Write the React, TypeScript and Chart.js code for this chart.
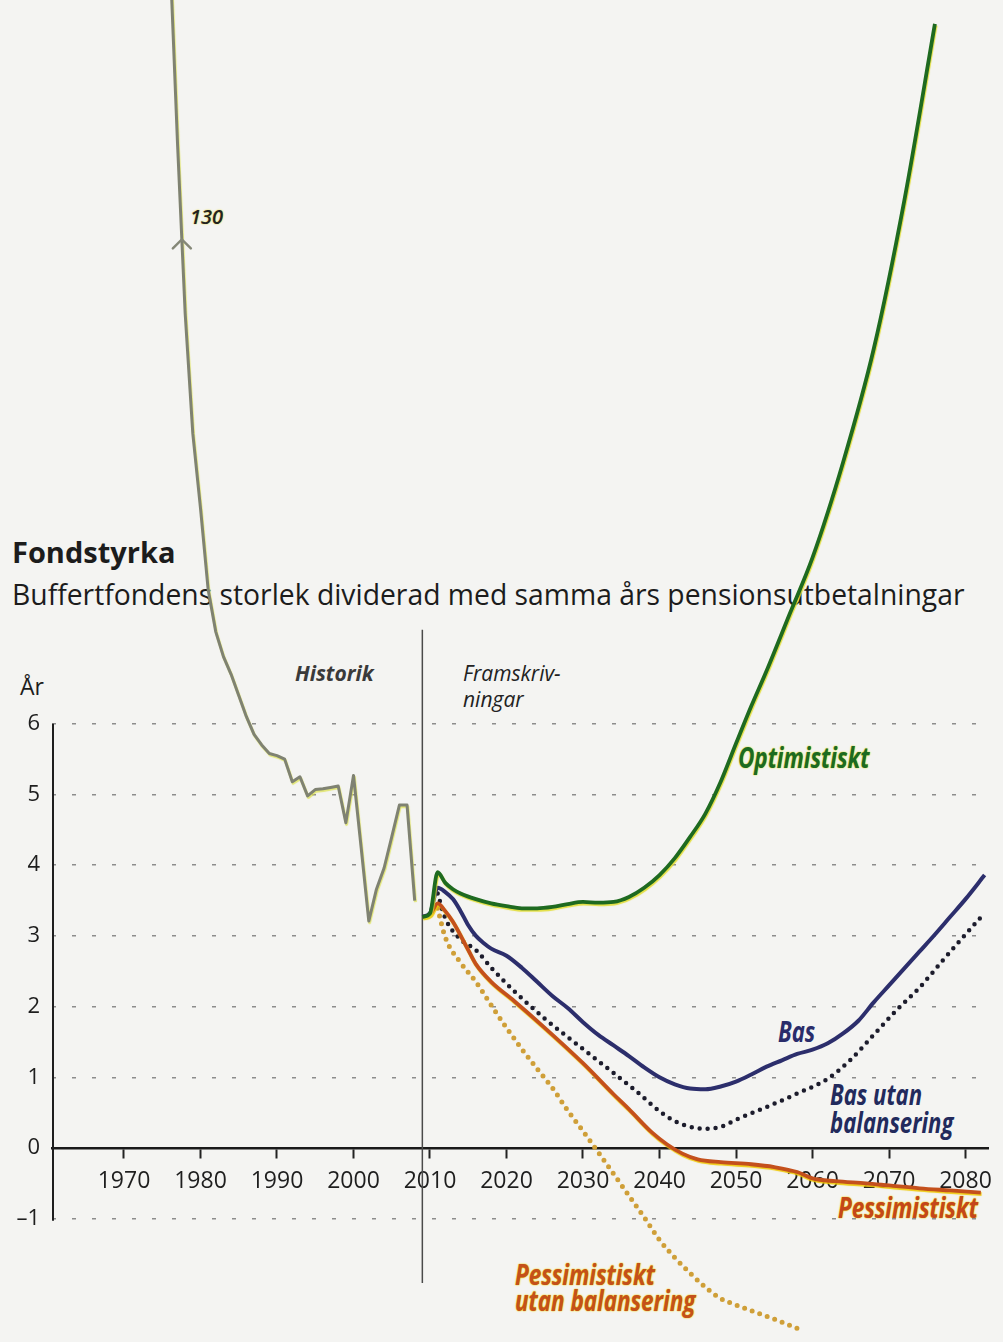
import React, { useEffect, useRef } from "react";
import { Chart, registerables } from "chart.js";

Chart.register(...registerables);

// ---- data ----
const HIST_YEARS = [1976, 1977, 1978, 1979, 1980, 1981, 1982, 1983, 1984, 1985, 1986, 1987, 1988, 1989, 1990, 1991, 1992, 1993, 1994, 1995, 1996, 1997, 1998, 1999, 2000, 2001, 2002, 2003, 2004, 2005, 2006, 2007, 2008];
const HIST_VALUES = [16.9, 14.2, 11.8, 10.1, 9.05, 7.9, 7.3, 6.95, 6.7, 6.4, 6.1, 5.85, 5.7, 5.58, 5.55, 5.5, 5.18, 5.25, 4.98, 5.07, 5.08, 5.1, 5.12, 4.6, 5.27, 4.25, 3.21, 3.66, 3.96, 4.4, 4.85, 4.85, 3.5];

const OPT_YEARS = [2009, 2010, 2011, 2012, 2013, 2014, 2016, 2018, 2020, 2022, 2024, 2026, 2028, 2030, 2032, 2034, 2036, 2038, 2040, 2042, 2044, 2046, 2048, 2050, 2052, 2054, 2057, 2060, 2064, 2068, 2072, 2076];
const OPT_VALUES = [3.27, 3.32, 3.9, 3.75, 3.66, 3.6, 3.52, 3.46, 3.42, 3.39, 3.39, 3.41, 3.45, 3.48, 3.47, 3.48, 3.55, 3.68, 3.86, 4.1, 4.4, 4.73, 5.18, 5.72, 6.25, 6.75, 7.55, 8.35, 9.7, 11.3, 13.4, 15.9];

const BAS_YEARS = [2009, 2010, 2011, 2012, 2013, 2014, 2015, 2016, 2017, 2018, 2020, 2022, 2024, 2026, 2028, 2030, 2032, 2034, 2036, 2038, 2040, 2042, 2044, 2046, 2048, 2050, 2052, 2054, 2056, 2058, 2060, 2062, 2064, 2066, 2068, 2070, 2072, 2074, 2076, 2078, 2080, 2082.5];
const BAS_VALUES = [3.27, 3.32, 3.68, 3.62, 3.52, 3.35, 3.15, 3.0, 2.9, 2.82, 2.72, 2.55, 2.35, 2.15, 1.98, 1.78, 1.6, 1.45, 1.3, 1.14, 1.0, 0.9, 0.84, 0.83, 0.87, 0.94, 1.04, 1.15, 1.24, 1.33, 1.39, 1.48, 1.62, 1.8, 2.06, 2.3, 2.54, 2.78, 3.02, 3.27, 3.52, 3.86];

const BASU_YEARS = [2011, 2012, 2014, 2016, 2018, 2021, 2025, 2030, 2034, 2037, 2040, 2042, 2044, 2046, 2048, 2050, 2054, 2058, 2062, 2065, 2068, 2071, 2074, 2077, 2080, 2082.3];
const BASU_VALUES = [3.6, 3.25, 2.95, 2.8, 2.55, 2.22, 1.83, 1.4, 1.06, 0.8, 0.52, 0.38, 0.3, 0.27, 0.3, 0.4, 0.58, 0.77, 0.98, 1.25, 1.6, 1.95, 2.27, 2.65, 3.02, 3.3];

const PESS_YEARS = [2009, 2010, 2011, 2012, 2013, 2015, 2016, 2018, 2021, 2025, 2030, 2034, 2036, 2039, 2041, 2043, 2045, 2048, 2052, 2055, 2058, 2060, 2063, 2067, 2070, 2074, 2078, 2082];
const PESS_VALUES = [3.27, 3.3, 3.46, 3.35, 3.2, 2.8, 2.6, 2.35, 2.08, 1.7, 1.2, 0.76, 0.55, 0.22, 0.05, -0.08, -0.16, -0.2, -0.23, -0.27, -0.34, -0.43, -0.47, -0.5, -0.53, -0.57, -0.6, -0.63];

const PESSU_YEARS = [2011, 2012, 2014, 2016, 2018, 2020, 2022, 2024, 2026, 2028, 2030, 2032, 2035, 2038, 2040, 2042, 2044, 2046, 2048, 2050, 2052, 2055, 2058];
const PESSU_VALUES = [3.39, 2.98, 2.62, 2.35, 2.02, 1.7, 1.4, 1.12, 0.85, 0.53, 0.24, -0.06, -0.52, -0.98, -1.3, -1.55, -1.77, -1.97, -2.13, -2.22, -2.3, -2.42, -2.55];

const X_TICKS = [1970, 1980, 1990, 2000, 2010, 2020, 2030, 2040, 2050, 2060, 2070, 2080];
const Y_TICKS = [-1, 0, 1, 2, 3, 4, 5, 6];
const X_MIN = 1960.59;
const X_MAX = 2082.94;
const Y_MIN = -2.744;
const Y_MAX = 16.237;
const SPLIT_YEAR = 2009;
const SPLIT_TOP = 7.33;
const SPLIT_BOTTOM = -1.91;
const ARROW_VALUE = 12.85;

const FONT = "'Open Sans', 'DejaVu Sans', sans-serif";

type Lbl = {
  text: string; left: number; base: number; size: number; weight?: number;
  italic?: boolean; color?: string; glow?: string; sx?: number;
};

const LABELS: Lbl[] = [
  { text: "Fondstyrka", left: 12, base: 563, size: 29, weight: 700, color: "#1c1c1c" },
  { text: "Buffertfondens storlek dividerad med samma års pensionsutbetalningar", left: 12, base: 605, size: 28.3, color: "#1c1c1c" },
  { text: "År", left: 20, base: 695, size: 23, color: "#1c1c1c" },
  { text: "Historik", left: 295, base: 682, size: 21, weight: 700, italic: true, color: "#3a3a3a" },
  { text: "Framskriv-", left: 463, base: 682, size: 21, italic: true, color: "#222" },
  { text: "ningar", left: 463, base: 708, size: 21, italic: true, color: "#222" },
  { text: "130", left: 190, base: 225, size: 20, weight: 600, italic: true, color: "#222", glow: "#e8e060" },
  { text: "Optimistiskt", left: 738, base: 768, size: 28, weight: 700, italic: true, color: "#1c6a22", glow: "#dede3a", sx: 0.8 },
  { text: "Bas", left: 778, base: 1042, size: 28, weight: 700, italic: true, color: "#2a2c6a", sx: 0.79 },
  { text: "Bas utan", left: 830, base: 1105, size: 28, weight: 700, italic: true, color: "#222a5c", sx: 0.79 },
  { text: "balansering", left: 830, base: 1133, size: 28, weight: 700, italic: true, color: "#222a5c", sx: 0.79 },
  { text: "Pessimistiskt", left: 838, base: 1218, size: 28, weight: 700, italic: true, color: "#c4461b", glow: "#f0d000", sx: 0.8 },
  { text: "Pessimistiskt", left: 515, base: 1285, size: 28, weight: 700, italic: true, color: "#c4501b", glow: "#f0d000", sx: 0.8 },
  { text: "utan balansering", left: 515, base: 1311, size: 28, weight: 700, italic: true, color: "#c4501b", glow: "#f0d000", sx: 0.8 },
];

const pts = (xs: number[], ys: number[]) => xs.map((x, i) => ({ x, y: ys[i] }));

const decorPlugin = {
  id: "decor",
  beforeDatasetsDraw(chart: any) {
    const { ctx, chartArea, scales } = chart;
    const x = scales.x;
    const y = scales.y;
    ctx.save();
    ctx.strokeStyle = "#1e1e1e";
    ctx.lineWidth = 2;
    ctx.beginPath();
    ctx.moveTo(chartArea.left + 1, y.getPixelForValue(Y_TICKS[Y_TICKS.length - 1]));
    ctx.lineTo(chartArea.left + 1, y.getPixelForValue(Y_TICKS[0]) + 2);
    ctx.stroke();
    const sx = x.getPixelForValue(SPLIT_YEAR);
    ctx.strokeStyle = "#4a4a4a";
    ctx.lineWidth = 1.5;
    ctx.beginPath();
    ctx.moveTo(sx, y.getPixelForValue(SPLIT_TOP));
    ctx.lineTo(sx, y.getPixelForValue(SPLIT_BOTTOM));
    ctx.stroke();
    ctx.restore();
  },
  beforeDatasetDraw(chart: any, args: any) {
    const ds = chart.data.datasets[args.index];
    const ctx = chart.ctx;
    ctx.save();
    if (ds.glow) {
      ctx.shadowColor = ds.glow;
      ctx.shadowOffsetX = 0.8;
      ctx.shadowOffsetY = 1.6;
      ctx.shadowBlur = 0.8;
    }
  },
  afterDatasetDraw(chart: any) {
    chart.ctx.restore();
  },
  afterDatasetsDraw(chart: any) {
    const { ctx, scales } = chart;
    let yr = HIST_YEARS[0];
    for (let i = 0; i < HIST_VALUES.length - 1; i++) {
      const a = HIST_VALUES[i], b = HIST_VALUES[i + 1];
      if (a >= ARROW_VALUE && b <= ARROW_VALUE) {
        yr = HIST_YEARS[i] + ((a - ARROW_VALUE) / (a - b)) * (HIST_YEARS[i + 1] - HIST_YEARS[i]);
        break;
      }
    }
    const px = scales.x.getPixelForValue(yr);
    const py = scales.y.getPixelForValue(ARROW_VALUE);
    ctx.save();
    ctx.strokeStyle = "#858878";
    ctx.lineWidth = 2.5;
    ctx.lineCap = "round";
    ctx.beginPath();
    ctx.moveTo(px - 9, py + 9);
    ctx.lineTo(px, py);
    ctx.lineTo(px + 9, py + 9);
    ctx.stroke();
    ctx.restore();
  },
};

export default function App() {
  const ref = useRef<HTMLCanvasElement>(null);

  useEffect(() => {
    if (!ref.current) return;
    Chart.defaults.font.family = FONT;
    const chart = new Chart(ref.current, {
      type: "line",
      data: {
        datasets: [
          {
            label: "Optimistiskt", data: pts(OPT_YEARS, OPT_VALUES), borderColor: "#1e6a20",
            borderWidth: 3.8, cubicInterpolationMode: "monotone", glow: "rgba(225,220,40,0.85)",
          } as any,
          {
            label: "Bas", data: pts(BAS_YEARS, BAS_VALUES), borderColor: "#2c2e6c",
            borderWidth: 4, cubicInterpolationMode: "monotone",
          } as any,
          {
            label: "Pessimistiskt", data: pts(PESS_YEARS, PESS_VALUES), borderColor: "#c4501c",
            borderWidth: 3.8, cubicInterpolationMode: "monotone", glow: "rgba(240,200,0,0.9)",
          } as any,
          {
            label: "Bas utan balansering", data: pts(BASU_YEARS, BASU_VALUES), borderColor: "#1c1c2c",
            borderWidth: 4.5, borderDash: [0, 8], borderCapStyle: "round", cubicInterpolationMode: "monotone",
          } as any,
          {
            label: "Pessimistiskt utan balansering", data: pts(PESSU_YEARS, PESSU_VALUES), borderColor: "#cf9f38",
            borderWidth: 5, borderDash: [0, 8], borderCapStyle: "round", cubicInterpolationMode: "monotone",
          } as any,
          {
            label: "Historik", data: pts(HIST_YEARS, HIST_VALUES), borderColor: "#7f8272",
            borderWidth: 3, tension: 0, glow: "rgba(220,225,70,0.7)",
          } as any,
        ],
      },
      options: {
        responsive: false,
        animation: false,
        layout: { padding: { left: 0, right: 15, top: 0, bottom: 0 } },
        elements: { point: { radius: 0 }, line: { borderJoinStyle: "round" } },
        datasets: { line: { clip: false as any } },
        plugins: { legend: { display: false }, tooltip: { enabled: false }, title: { display: false } },
        scales: {
          x: {
            type: "linear",
            min: X_MIN,
            max: X_MAX,
            position: { y: 0 } as any,
            afterFit: (s: any) => { s.height = 0; s.paddingLeft = 0; s.paddingRight = 0; s.paddingTop = 0; s.paddingBottom = 0; },
            afterBuildTicks: (s: any) => { s.ticks = X_TICKS.map((v) => ({ value: v })); },
            grid: { drawOnChartArea: false, drawTicks: true, tickLength: 9, tickColor: "#222", tickWidth: 2 } as any,
            border: { display: true, color: "#1a1a1a", width: 2.5 },
            ticks: {
              color: "#1e1e1e", font: { size: 23 }, padding: 11, maxRotation: 0, minRotation: 0, autoSkip: false,
              callback: (v: any) => String(v),
            },
          },
          y: {
            type: "linear",
            min: Y_MIN,
            max: Y_MAX,
            afterFit: (s: any) => { s.width = 52; s.paddingTop = 0; s.paddingBottom = 0; s.paddingLeft = 0; s.paddingRight = 0; },
            afterBuildTicks: (s: any) => { s.ticks = Y_TICKS.map((v) => ({ value: v })); },
            grid: {
              drawTicks: false, lineWidth: 1.5,
              color: (c: any) => (c.tick && c.tick.value === 0 ? "rgba(0,0,0,0)" : "#8c8c8c"),
            },
            border: { display: false, dash: [4, 16] },
            ticks: {
              color: "#1e1e1e", font: { size: 22 }, padding: 12,
              callback: (v: any) => (Number(v) < 0 ? "\u2013" + Math.abs(Number(v)) : String(v)),
            },
          },
        },
      },
      plugins: [decorPlugin as any],
    });
    return () => chart.destroy();
  }, []);

  return (
    <div
      style={{
        position: "absolute", left: 0, top: 0, width: 1003, height: 1342,
        background: "#f4f4f2", overflow: "hidden", fontFamily: FONT,
      }}
    >
      {LABELS.map((l, i) => (
        <div
          key={i}
          style={{
            position: "absolute",
            left: l.left,
            top: l.base - 0.888 * l.size,
            fontSize: l.size,
            lineHeight: 1,
            fontWeight: l.weight || 400,
            fontStyle: l.italic ? "italic" : "normal",
            color: l.color || "#222",
            whiteSpace: "nowrap",
            transform: l.sx ? `scaleX(${l.sx})` : undefined,
            transformOrigin: "left top",
            textShadow: l.glow ? `0 0 2px ${l.glow}, 0 0 1px ${l.glow}` : undefined,
          }}
        >
          {l.text}
        </div>
      ))}
      <canvas
        ref={ref}
        width={1003}
        height={1342}
        style={{ position: "absolute", left: 0, top: 0, width: 1003, height: 1342 }}
      />
    </div>
  );
}
